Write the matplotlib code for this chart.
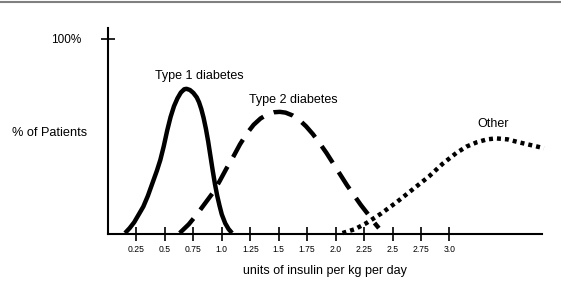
import matplotlib.pyplot as plt
from matplotlib.lines import Line2D

plt.rcParams['font.family'] = ['Liberation Sans', 'DejaVu Sans']

# Type 1 diabetes (solid)
t1_x = [0.15, 0.19, 0.23, 0.27, 0.31, 0.35, 0.39, 0.43, 0.46, 0.49, 0.52, 0.55, 0.58, 0.61, 0.64, 0.67, 0.69,
        0.72, 0.75, 0.78, 0.80, 0.82, 0.84, 0.86, 0.88, 0.90, 0.92, 0.94, 0.96, 0.98, 1.00, 1.03, 1.06, 1.09]
t1_y = [0.5, 3, 6, 10, 14, 19.5, 26, 32.5, 38, 45, 53, 60, 65.5, 69.5, 72.5, 74.2, 74.4,
        73.8, 72.3, 70, 67.5, 64, 59.5, 54, 47.5, 40, 32.5, 25.5, 19.5, 14.5, 10, 5.5, 2.5, 0.5]

# Type 2 diabetes (dashed)
t2_x = [0.63, 0.71, 0.78, 0.85, 0.92, 0.98, 1.04, 1.10, 1.16, 1.22, 1.28, 1.34, 1.40, 1.46, 1.51, 1.56, 1.62,
        1.68, 1.74, 1.80, 1.86, 1.92, 1.98, 2.04, 2.10, 2.16, 2.22, 2.28, 2.33, 2.38]
t2_y = [0.5, 5, 10, 15.5, 21, 27, 33.5, 39.5, 46, 51.5, 56, 59.2, 61.3, 62.4, 62.6, 62.2, 60.8,
        58.5, 55.2, 51.2, 46.5, 41.5, 36, 30.5, 25, 20, 15, 10.5, 6.5, 3]

# Other (dotted)
ot_x = [2.06, 2.17, 2.27, 2.40, 2.54, 2.68, 2.82, 2.94, 3.06, 3.15, 3.24, 3.33, 3.41, 3.51, 3.61, 3.72, 3.83]
ot_y = [0.5, 2.5, 5.6, 10.5, 16.5, 23, 29.5, 36, 41.5, 44.8, 47, 48.5, 49, 48.5, 47, 45.5, 44]

xticks = [0.25, 0.5, 0.75, 1.0, 1.25, 1.5, 1.75, 2.0, 2.25, 2.5, 2.75, 3.0]
xtick_labels = ['0.25', '0.5', '0.75', '1.0', '1.25', '1.5', '1.75', '2.0', '2.25', '2.5', '2.75', '3.0']

fig = plt.figure(figsize=(5.61, 2.94), dpi=100)
ax = fig.add_axes([0.1925, 0.204, 0.773, 0.701])

ax.plot(t1_x, t1_y, color='black', lw=3.2, solid_capstyle='butt', solid_joinstyle='round')
ax.plot(t2_x, t2_y, color='black', lw=3.2, dashes=(4.5, 2.5), dash_capstyle='butt')
ax.plot(ot_x, ot_y, color='black', lw=3.2, dashes=(0.9, 0.9), dash_capstyle='butt', clip_on=False)

ax.set_xlim(0, 3.81)
ax.set_ylim(0, 105.6)

for s in ['top', 'right']:
    ax.spines[s].set_visible(False)
for s in ['left', 'bottom']:
    ax.spines[s].set_linewidth(1.5)

ax.set_xticks(xticks)
ax.set_xticklabels(xtick_labels, fontsize=6.2, stretch='condensed')
ax.tick_params(axis='x', direction='inout', length=10, width=1.2, pad=3)
ax.set_yticks([100])
ax.set_yticklabels(['100%'], fontsize=8.5)
ax.tick_params(axis='y', direction='inout', length=10, width=1.2, pad=14)

ax.set_xlabel('units of insulin per kg per day', fontsize=9, labelpad=8)

ax.text(0.8, 81, 'Type 1 diabetes', fontsize=9, ha='center', va='center')
ax.text(1.63, 68.5, 'Type 2 diabetes', fontsize=9, ha='center', va='center')
ax.text(3.38, 56.5, 'Other', fontsize=9, ha='center', va='center')
fig.text(50 / 561, 1 - 133 / 294, '% of Patients', fontsize=9.2, ha='center', va='center')

fig.add_artist(Line2D([0, 1], [1 - 2 / 294, 1 - 2 / 294], color='#808080', lw=1.5))

fig.savefig('out.png', dpi=100)
